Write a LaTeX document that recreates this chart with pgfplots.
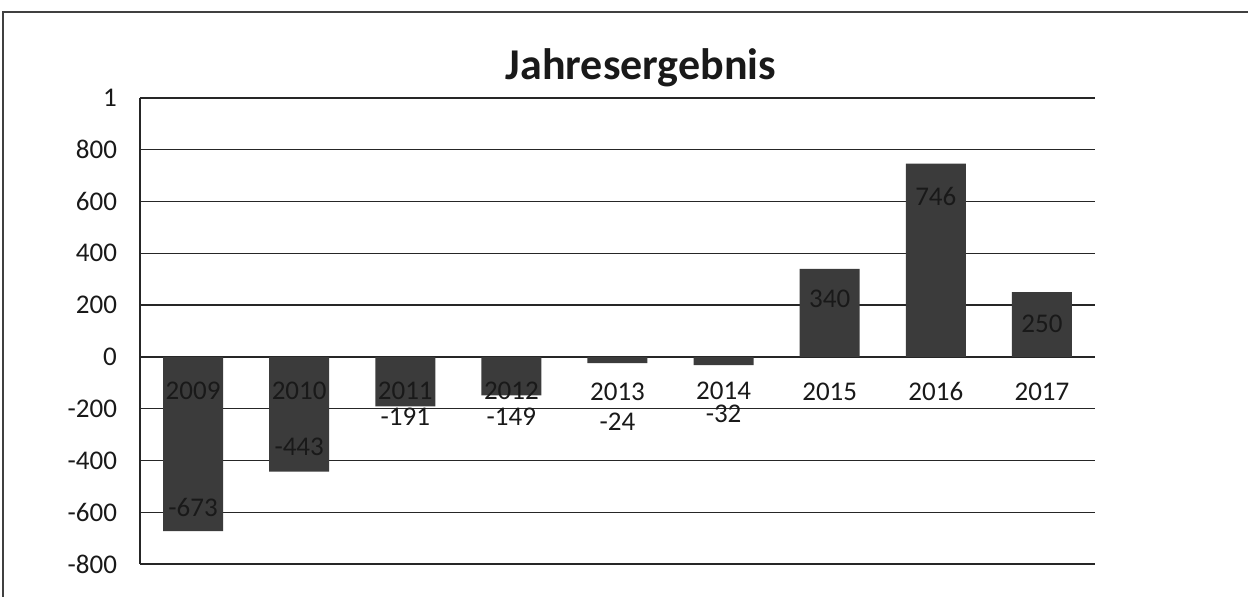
\documentclass[border=0pt]{standalone}
\usepackage{fontspec}
\setmainfont{Carlito}
\usepackage{pgfplots}
\pgfplotsset{compat=1.18}
\begin{document}
\begin{tikzpicture}[x=1pt,y=1pt]
\useasboundingbox (-70,-16.5) rectangle (554,282);
\clip (-70,-16.5) rectangle (554,282);
\draw[black!75, line width=0.7pt] (-68.5,-40) rectangle (600,276);
\node[font=\fontsize{22}{24}\selectfont\bfseries, text=black!90] at (250.5,248) {Jahresergebnis};
\begin{axis}[at={(0,0)}, anchor=south west, scale only axis,
  width=477.5pt, height=233pt,
  xmin=-0.5, xmax=8.5, ymin=-800, ymax=1000,
  ytick={-800,-600,-400,-200,0,200,400,600,800,1000},
  yticklabels={-800,-600,-400,-200,0,200,400,600,800,1},
  xtick=\empty,
  ymajorgrids, grid style={black!85, line width=0.7pt},
  axis x line*=bottom, axis y line*=left,
  axis line style={black!85, line width=0.7pt},
  major tick length=0pt,
  yticklabel style={font=\fontsize{13.5}{15}\selectfont, text=black!90, xshift=-8pt},
  clip=false]
\addplot[ybar, bar width=30pt, fill=black!77, draw=none] coordinates {
  (0,-673) (1,-443) (2,-191) (3,-149) (4,-24) (5,-32) (6,340) (7,746) (8,250)};
\addplot[only marks, mark=*, mark size=0pt, draw=none, fill=none,
  nodes near coords, point meta=explicit symbolic,
  every node near coord/.style={font=\fontsize{13.5}{15}\selectfont, text=black!90, anchor=center, inner sep=0pt}]
  table[meta=label] {
x y label
0 -583 -673
1 -346 -443
2 -233 -191
3 -233 -149
4 -249 -24
5 -220 -32
6 225 340
7 621 746
8 128 250
};
\addplot[only marks, mark=*, mark size=0pt, draw=none, fill=none,
  nodes near coords, point meta=explicit symbolic,
  every node near coord/.style={font=\fontsize{13.5}{15}\selectfont, text=black!90, anchor=center, inner sep=0pt}]
  table[meta=label] {
x y label
0 -130 2009
1 -130 2010
2 -130 2011
3 -130 2012
4 -135 2013
5 -132 2014
6 -135 2015
7 -135 2016
8 -135 2017
};
\end{axis}
\end{tikzpicture}
\end{document}
